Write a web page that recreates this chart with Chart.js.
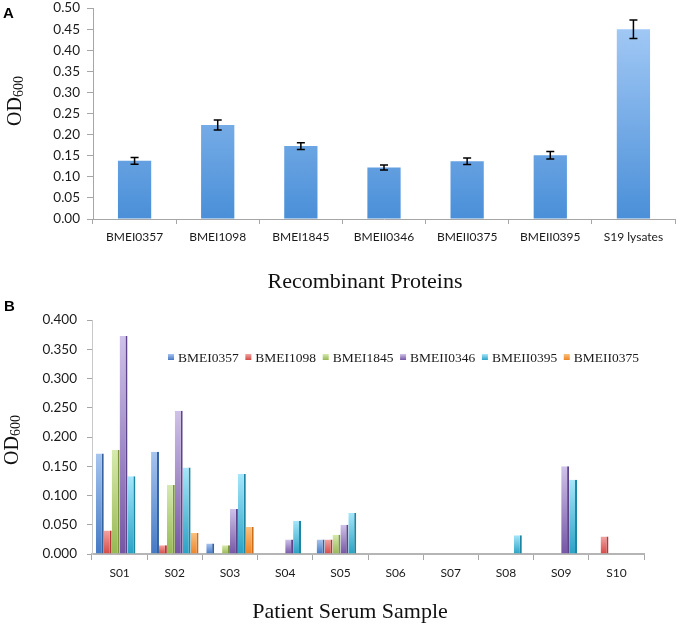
<!DOCTYPE html>
<html>
<head>
<meta charset="utf-8">
<script src="https://cdn.jsdelivr.net/npm/chart.js@4.4.0/dist/chart.umd.min.js"></script>
<style>
  body { margin: 0; background: #fff; }
  #wrap { position: relative; width: 680px; height: 628px; overflow: hidden; }
  .panel { position: absolute; left: 0; width: 680px; }
  #boxA { top: -7px; height: 307px; }
  #boxB { top: 302px; height: 326px; }
  .tag { position: absolute; font: bold 15px "Liberation Sans", Arial, sans-serif; color: #000; }
</style>
</head>
<body>
<div id="wrap">
  <div class="panel" id="boxA"><canvas id="chartA"></canvas></div>
  <div class="panel" id="boxB"><canvas id="chartB"></canvas></div>
  <div class="tag" style="left:3px;top:4px">A</div>
  <div class="tag" style="left:4px;top:297px">B</div>
</div>
<script>
// Panel A - recombinant proteins
var proteins = ['BMEI0357', 'BMEI1098', 'BMEI1845', 'BMEII0346', 'BMEII0375', 'BMEII0395', 'S19 lysates'];
var odMeans = [0.138, 0.223, 0.173, 0.122, 0.137, 0.151, 0.450];
var odErrors = [0.008, 0.012, 0.008, 0.006, 0.0075, 0.009, 0.022];

// Panel B - patient serum samples
var samples = ['S01', 'S02', 'S03', 'S04', 'S05', 'S06', 'S07', 'S08', 'S09', 'S10'];
var seriesNames = ['BMEI0357', 'BMEI1098', 'BMEI1845', 'BMEII0346', 'BMEII0395', 'BMEII0375'];
var vBMEI0357  = [0.172, 0.175, 0.018, 0,     0.025, 0, 0, 0,     0,     0];
var vBMEI1098  = [0.040, 0.015, 0,     0,     0.025, 0, 0, 0,     0,     0.030];
var vBMEI1845  = [0.178, 0.118, 0.015, 0,     0.033, 0, 0, 0,     0,     0];
var vBMEII0346 = [0.373, 0.245, 0.077, 0.025, 0.050, 0, 0, 0,     0.150, 0];
var vBMEII0395 = [0.133, 0.148, 0.137, 0.057, 0.070, 0, 0, 0.032, 0.127, 0];
var vBMEII0375 = [0,     0.036, 0.046, 0,     0,     0, 0, 0,     0,     0];

var xTickFont = { family: 'Lato', size: 12 };
var yTickFont = { family: 'Lato', size: 13.5 };
var serif = '"Liberation Serif", "Times New Roman", serif';

// colours: [top, bottom, side]
var shades = [
  ['#a6c5f0', '#4579c4', '#35629f'],
  ['#f3a3a1', '#d44a46', '#b23935'],
  ['#d6eaae', '#97b852', '#7a963d'],
  ['#cfc2e8', '#7556a6', '#5d438a'],
  ['#a6e6fb', '#2aa2c4', '#1d85a2'],
  ['#fbc07c', '#ee8427', '#cc6d1a']
];

// axis titles: OD600 with subscript, and the category title
var axisTitles = {
  id: 'axisTitles',
  afterDraw: function(chart, args, opts) {
    var ctx = chart.ctx;
    ctx.save();
    ctx.fillStyle = '#111';
    ctx.textBaseline = 'middle';
    ctx.textAlign = 'center';
    ctx.font = '22px ' + serif;
    ctx.fillText(opts.xText, opts.xx, opts.xy);

    ctx.translate(opts.yx, opts.yy);
    ctx.rotate(-Math.PI / 2);
    ctx.textBaseline = 'alphabetic';
    ctx.textAlign = 'left';
    ctx.font = '20px ' + serif;
    var w1 = ctx.measureText('OD').width;
    ctx.font = '14px ' + serif;
    var w2 = ctx.measureText('600').width;
    var x0 = -(w1 + w2) / 2;
    ctx.font = '20px ' + serif;
    ctx.fillText('OD', x0, 0);
    ctx.font = '14px ' + serif;
    ctx.fillText('600', x0 + w1, 2);
    ctx.restore();
  }
};

// error bars for panel A
var errorBars = {
  id: 'errorBars',
  afterDatasetsDraw: function(chart, args, opts) {
    if (!opts.errors) return;
    var ctx = chart.ctx;
    var meta = chart.getDatasetMeta(0);
    var ys = chart.scales.y;
    ctx.save();
    ctx.strokeStyle = '#000';
    ctx.lineWidth = 1.5;
    meta.data.forEach(function(bar, i) {
      var v = chart.data.datasets[0].data[i];
      var e = opts.errors[i];
      var yt = ys.getPixelForValue(v + e);
      var yb = ys.getPixelForValue(v - e);
      ctx.beginPath();
      ctx.moveTo(bar.x, yt); ctx.lineTo(bar.x, yb);
      ctx.moveTo(bar.x - 4, yt); ctx.lineTo(bar.x + 4, yt);
      ctx.moveTo(bar.x - 4, yb); ctx.lineTo(bar.x + 4, yb);
      ctx.stroke();
    });
    ctx.restore();
  }
};

// legend drawn inside the plot of panel B
var innerLegend = {
  id: 'innerLegend',
  afterDraw: function(chart, args, opts) {
    if (!opts.display) return;
    var ctx = chart.ctx;
    ctx.save();
    ctx.font = opts.size + 'px ' + serif;
    ctx.textBaseline = 'middle';
    ctx.textAlign = 'left';
    var sets = chart.data.datasets;
    var widths = sets.map(function(d) { return ctx.measureText(d.label).width; });
    var total = widths.reduce(function(a, b) { return a + b; }, 0) + sets.length * 10;
    var gap = (opts.right - opts.left - total) / (sets.length - 1);
    var x = opts.left;
    sets.forEach(function(d, i) {
      var g = ctx.createLinearGradient(0, opts.y - 3, 0, opts.y + 3);
      g.addColorStop(0, shades[i][0]);
      g.addColorStop(1, shades[i][1]);
      ctx.fillStyle = g;
      ctx.fillRect(x, opts.y - 3, 6, 6);
      ctx.fillStyle = '#1a1a1a';
      ctx.fillText(d.label, x + 10, opts.y + 1);
      x += 10 + widths[i] + gap;
    });
    ctx.restore();
  }
};

Chart.register(axisTitles, errorBars, innerLegend);

function areaGradient(top, bottom) {
  return function(c) {
    var area = c.chart.chartArea;
    if (!area || !isFinite(area.top) || !isFinite(area.bottom)) return bottom;
    var g = c.chart.ctx.createLinearGradient(0, area.top, 0, area.bottom);
    g.addColorStop(0, top);
    g.addColorStop(1, bottom);
    return g;
  };
}

function barGradient(top, bottom) {
  return function(c) {
    var ys = c.chart.scales.y;
    if (!ys || !c.parsed) return bottom;
    var y0 = ys.getPixelForValue(c.parsed.y);
    var y1 = ys.getPixelForValue(0);
    if (!isFinite(y0) || !isFinite(y1) || y1 - y0 < 1) return bottom;
    var g = c.chart.ctx.createLinearGradient(0, y0, 0, y1);
    g.addColorStop(0, top);
    g.addColorStop(1, bottom);
    return g;
  };
}

new Chart(document.getElementById('chartA'), {
  type: 'bar',
  data: {
    labels: proteins,
    datasets: [{
      data: odMeans,
      backgroundColor: areaGradient('#aacef8', '#4a8fd8'),
      borderWidth: 0,
      categoryPercentage: 1,
      barPercentage: 0.4
    }]
  },
  options: {
    responsive: true,
    maintainAspectRatio: false,
    animation: false,
    layout: { padding: { top: 0, right: 5, left: 0, bottom: 0 } },
    plugins: {
      legend: { display: false },
      tooltip: { enabled: false },
      axisTitles: { xText: 'Recombinant Proteins', xx: 365, xy: 289, yx: 21, yy: 108 },
      errorBars: { errors: odErrors },
      innerLegend: { display: false }
    },
    scales: {
      x: {
        grid: { drawOnChartArea: false, offset: true, tickLength: 5, color: '#a6a6a6' },
        border: { color: '#a6a6a6' },
        ticks: { font: xTickFont, color: '#1a1a1a', padding: 6 },
        afterFit: function(s) { s.height = 81; }
      },
      y: {
        min: 0, max: 0.5,
        grid: { drawOnChartArea: false, tickLength: 6, color: '#a6a6a6' },
        border: { color: '#a6a6a6' },
        ticks: { stepSize: 0.05, font: yTickFont, color: '#1a1a1a', padding: 7,
          callback: function(v) { return v.toFixed(2); } },
        afterFit: function(s) { s.width = 93; }
      }
    }
  }
});

var valuesB = [vBMEI0357, vBMEI1098, vBMEI1845, vBMEII0346, vBMEII0395, vBMEII0375];

new Chart(document.getElementById('chartB'), {
  type: 'bar',
  data: {
    labels: samples,
    datasets: seriesNames.map(function(name, i) {
      return {
        label: name,
        data: valuesB[i],
        backgroundColor: barGradient(shades[i][0], shades[i][1]),
        borderColor: shades[i][2],
        borderWidth: { top: 0, right: 2, bottom: 0, left: 0 },
        categoryPercentage: 0.86,
        barPercentage: 1
      };
    })
  },
  options: {
    responsive: true,
    maintainAspectRatio: false,
    animation: false,
    layout: { padding: { top: 14, right: 36, left: 0, bottom: 0 } },
    plugins: {
      legend: { display: false },
      tooltip: { enabled: false },
      axisTitles: { xText: 'Patient Serum Sample', xx: 350, xy: 310, yx: 18, yy: 138 },
      innerLegend: { display: true, left: 168, right: 639, y: 55, size: 13.5 }
    },
    scales: {
      x: {
        grid: { drawOnChartArea: false, offset: true, tickLength: 6, color: '#a6a6a6' },
        border: { color: '#b5b5b5', width: 2 },
        ticks: { font: xTickFont, color: '#1a1a1a', padding: 6 },
        afterFit: function(s) { s.height = 74; }
      },
      y: {
        min: 0, max: 0.4,
        grid: { drawOnChartArea: false, tickLength: 5, color: '#a6a6a6' },
        border: { color: '#c8c8c8' },
        ticks: { stepSize: 0.05, font: yTickFont, color: '#1a1a1a', padding: 10,
          callback: function(v) { return v.toFixed(3); } },
        afterFit: function(s) { s.width = 92; }
      }
    }
  }
});
</script>
</body>
</html>
